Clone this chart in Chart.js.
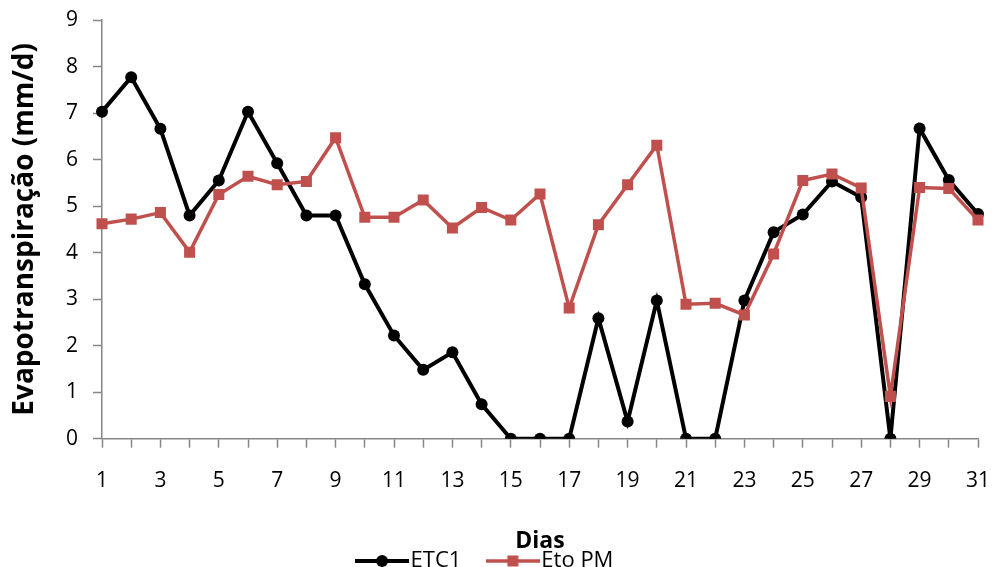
<!DOCTYPE html>
<html>
<head>
<meta charset="utf-8">
<script src="https://cdn.jsdelivr.net/npm/chart.js@4/dist/chart.umd.min.js"></script>
<style>
  html, body { margin: 0; padding: 0; background: #fff; }
  #wrap { width: 994px; height: 567px; }
</style>
</head>
<body>
<div id="wrap"><canvas id="chart" width="994" height="567"></canvas></div>
<script>
// Dados
const dias = Array.from({ length: 31 }, (_, i) => String(i + 1));
const etc1 = [7.03, 7.77, 6.66, 4.80, 5.55, 7.03, 5.92, 4.80, 4.80, 3.32,
              2.22, 1.48, 1.86, 0.74, 0, 0, 0, 2.59, 0.37, 2.97,
              0, 0, 2.97, 4.44, 4.82, 5.53, 5.19, 0, 6.67, 5.56, 4.83];
const etoPM = [4.62, 4.72, 4.86, 4.01, 5.25, 5.64, 5.46, 5.53, 6.47, 4.76,
               4.76, 5.13, 4.53, 4.97, 4.70, 5.26, 2.81, 4.60, 5.46, 6.31,
               2.89, 2.91, 2.66, 3.97, 5.55, 5.69, 5.39, 0.91, 5.40, 5.38, 4.70];
const yTicks = [0, 1, 2, 3, 4, 5, 6, 7, 8, 9];

const BLACK = '#000000';
const RED = '#C0504D';
const AXIS = '#868686';
const FONT = "'Open Sans', 'Liberation Sans', sans-serif";

// Ícone da legenda: linha com marcador
function legendIcon(color, lineWidth, shape) {
    const c = document.createElement('canvas');
    c.width = 54;
    c.height = 16;
    const ctx = c.getContext('2d');
    ctx.strokeStyle = color;
    ctx.lineWidth = lineWidth;
    ctx.beginPath();
    ctx.moveTo(0, 8);
    ctx.lineTo(54, 8);
    ctx.stroke();
    ctx.fillStyle = color;
    if (shape === 'circle') {
        ctx.beginPath();
        ctx.arc(27, 8, 6, 0, Math.PI * 2);
        ctx.fill();
    } else {
        ctx.fillRect(21.5, 2.5, 11, 11);
    }
    return c;
}

const icons = [legendIcon(BLACK, 4, 'circle'), legendIcon(RED, 3.5, 'rect')];

// Sem folga extra para os rótulos: a área do gráfico fica fixa
function noLabelPadding(scale) {
    scale.paddingTop = 0;
    scale.paddingBottom = 0;
    scale.paddingLeft = 0;
    scale.paddingRight = 0;
}

new Chart(document.getElementById('chart'), {
    type: 'line',
    data: {
        labels: dias,
        datasets: [
            {
                label: 'ETC1',
                data: etc1,
                borderColor: BLACK,
                backgroundColor: BLACK,
                borderWidth: 4,
                pointStyle: 'circle',
                pointRadius: 6,
                pointBorderWidth: 0,
                tension: 0,
                order: 2
            },
            {
                label: 'Eto PM',
                data: etoPM,
                borderColor: RED,
                backgroundColor: RED,
                borderWidth: 3.5,
                pointStyle: 'rect',
                pointRadius: 7.8,
                pointBorderWidth: 0,
                tension: 0,
                order: 1
            }
        ]
    },
    options: {
        responsive: false,
        animation: false,
        devicePixelRatio: 1,
        layout: { padding: { top: 20, right: 16, bottom: 0, left: 0 } },
        plugins: {
            tooltip: { enabled: false },
            legend: {
                position: 'bottom',
                maxHeight: 51,
                labels: {
                    color: '#000',
                    font: { family: FONT, size: 22 },
                    padding: 34,
                    usePointStyle: true,
                    pointStyleWidth: 35,
                    sort: (a, b) => a.datasetIndex - b.datasetIndex,
                    generateLabels: chart => chart.data.datasets.map((ds, i) => ({
                        text: ds.label,
                        fillStyle: ds.borderColor,
                        strokeStyle: ds.borderColor,
                        lineWidth: 0,
                        pointStyle: icons[i],
                        fontColor: '#000',
                        datasetIndex: i,
                        hidden: false
                    }))
                }
            }
        },
        scales: {
            x: {
                type: 'category',
                offset: false,
                grid: {
                    drawOnChartArea: false,
                    drawTicks: true,
                    tickLength: 9,
                    tickColor: AXIS,
                    tickWidth: 1.5,
                    offset: false
                },
                border: { color: AXIS, width: 1.5 },
                ticks: {
                    autoSkip: false,
                    maxRotation: 0,
                    padding: 21,
                    color: '#000',
                    font: { family: FONT, size: 21 },
                    callback: function (value, index) {
                        return index % 2 === 0 ? this.getLabelForValue(value) : '';
                    }
                },
                title: {
                    display: true,
                    text: 'Dias',
                    color: '#000',
                    font: { family: FONT, size: 23, weight: 'bold' },
                    padding: { top: 0, bottom: -38.8 }
                },
                afterFit: scale => {
                    scale.height = 77.3;
                    noLabelPadding(scale);
                }
            },
            y: {
                min: 0,
                max: 9,
                afterBuildTicks: scale => { scale.ticks = yTicks.map(v => ({ value: v })); },
                grid: {
                    drawOnChartArea: false,
                    drawTicks: true,
                    tickLength: 9,
                    tickColor: AXIS,
                    tickWidth: 1.5
                },
                border: { color: AXIS, width: 1.5 },
                ticks: {
                    padding: 15,
                    color: '#000',
                    font: { family: FONT, size: 21 }
                },
                title: {
                    display: true,
                    text: 'Evapotranspiração (mm/d)',
                    color: '#000',
                    font: { family: FONT, size: 28, weight: 'bold' },
                    padding: { top: 8, bottom: 0 }
                },
                afterFit: scale => {
                    scale.width = 102;
                    noLabelPadding(scale);
                }
            }
        }
    }
});
</script>
</body>
</html>
